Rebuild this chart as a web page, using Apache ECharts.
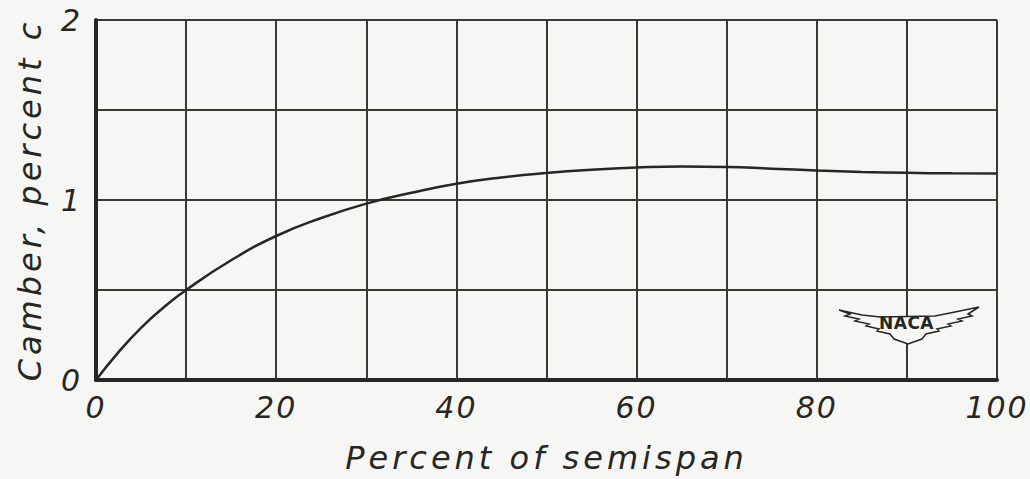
<!DOCTYPE html>
<html>
<head>
<meta charset="utf-8">
<script src="https://cdn.jsdelivr.net/npm/echarts@6/dist/echarts.min.js"></script>
<style>
  html, body { margin: 0; padding: 0; background: #f6f6f4; }
  #chart { width: 1030px; height: 479px; }
  #chart text { letter-spacing: 4px; }
</style>
</head>
<body>
<div id="chart"></div>
<script>
// Percent of semispan (x) and camber in percent chord (y)
const semispan = [0, 2.5, 5, 7.5, 10, 15, 20, 25, 30, 35, 40, 45, 50, 55, 60, 65, 70, 75, 80, 85, 90, 95, 100];
const camber = [0, 0.155, 0.29, 0.403, 0.50, 0.665, 0.80, 0.90, 0.98, 1.04, 1.09, 1.125, 1.15, 1.168, 1.18, 1.186, 1.184, 1.174, 1.164, 1.156, 1.151, 1.148, 1.147];
const xTickLabels = ['0', '20', '40', '60', '80', '100'];
const yTickLabels = ['0', '1', '2'];
const xTitle = 'Percent of semispan';
const yTitle = 'Camber, percent c';

const ink = '#262622';
const gridInk = '#3a3a33';
const font = 'DejaVu Sans';

const chart = echarts.init(document.getElementById('chart'), null, { renderer: 'svg' });
chart.setOption({
  backgroundColor: '#f6f6f4',
  animation: false,
  grid: { left: 96, right: 33, top: 20, bottom: 99 },
  xAxis: {
    type: 'value', min: 0, max: 100, interval: 10,
    name: xTitle, nameLocation: 'middle', nameGap: 62,
    nameTextStyle: { fontFamily: font, fontStyle: 'italic', fontSize: 32, color: ink },
    axisLine: { show: true, lineStyle: { color: ink, width: 4 } },
    axisTick: { show: false },
    splitLine: { show: true, lineStyle: { color: gridInk, width: 2 } },
    axisLabel: {
      margin: 12, fontFamily: font, fontStyle: 'italic', fontSize: 30, color: ink,
      showMinLabel: true, showMaxLabel: true, hideOverlap: false,
      formatter: v => { const s = String(Math.round(v)); return xTickLabels.includes(s) ? s : ''; }
    }
  },
  yAxis: {
    type: 'value', min: 0, max: 2, interval: 0.5,
    name: yTitle, nameLocation: 'middle', nameGap: 50, nameRotate: 90,
    nameTextStyle: { fontFamily: font, fontStyle: 'italic', fontSize: 32, color: ink },
    axisLine: { show: true, lineStyle: { color: ink, width: 4 } },
    axisTick: { show: false },
    splitLine: { show: true, lineStyle: { color: gridInk, width: 2 } },
    axisLabel: {
      margin: 14, fontFamily: font, fontStyle: 'italic', fontSize: 30, color: ink,
      padding: [9, 0, 0, 0],
      formatter: v => { const s = String(v); return yTickLabels.includes(s) ? s : ''; }
    }
  },
  series: [{
    type: 'line',
    data: semispan.map((x, i) => [x, camber[i]]),
    smooth: 0.5,
    showSymbol: false,
    lineStyle: { color: ink, width: 2.5 }
  }],
  graphic: [
    {
      type: 'polygon', z: 100,
      shape: { points: [
        [839, 310], [862, 315], [880, 317], [935, 316], [955, 312], [979, 307],
        [968, 314], [972, 316], [958, 319], [962, 321], [948, 324], [951, 326],
        [937, 329], [939, 331], [926, 334], [922, 339], [908, 344],
        [894, 339], [890, 334], [877, 331], [879, 329], [866, 326], [869, 324],
        [855, 321], [859, 319], [845, 316], [850, 314]
      ] },
      style: { fill: '#f6f6f4', stroke: ink, lineWidth: 1.5 }
    },
    {
      type: 'text', z: 101, left: 879, top: 314,
      style: { text: 'NACA', fontFamily: font, fontSize: 17, fontWeight: 'bold', fill: ink }
    }
  ]
});

function applySpacing() {
  document.querySelectorAll('#chart text').forEach(t => {
    const s = t.textContent.trim();
    if (s === 'NACA') t.style.letterSpacing = '0.5px';
    else if (/^\d+$/.test(s)) t.style.letterSpacing = '2px';
    else t.style.letterSpacing = '4px';
  });
}
try { chart.getZr().flush(); } catch (e) {}
applySpacing();
chart.on('finished', applySpacing);
setTimeout(applySpacing, 30);
setTimeout(applySpacing, 200);
</script>
</body>
</html>
